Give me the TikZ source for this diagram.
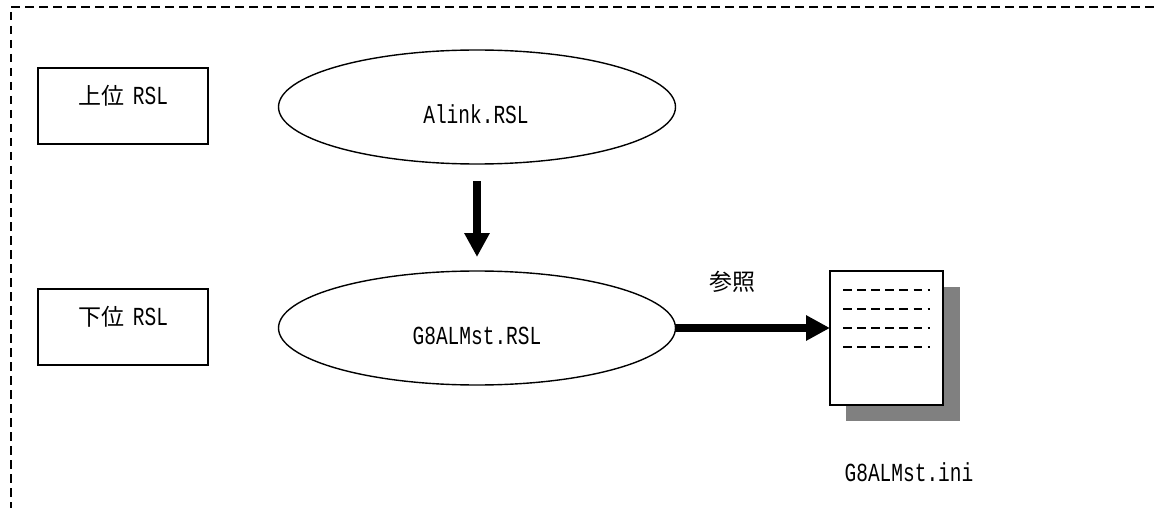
\documentclass[tikz,border=0pt]{standalone}
\usepackage{fontspec}
\setmainfont{Liberation Mono}
\newfontfamily\latf[FakeStretch=0.75]{Liberation Mono}
\newfontfamily\cjkf{Noto Sans CJK JP}
\usetikzlibrary{shapes.geometric,arrows.meta}
\tikzset{
  txt/.style={inner sep=0pt,outer sep=0pt,font=\fontsize{26pt}{26pt}\selectfont\latf,anchor=center},
  rbox/.style={draw=black,fill=white,line width=1.6pt,minimum width=170pt,minimum height=76pt,inner sep=0pt,outer sep=0pt},
  oval/.style={ellipse,draw=black,fill=white,line width=1.4pt,minimum width=397pt,minimum height=114pt,inner sep=0pt,outer sep=0pt},
  bigarrow/.style={line width=8pt,-{Triangle[length=24pt,width=24pt]}},
  docline/.style={line width=1.3pt,dash pattern=on 8.5pt off 5.6pt},
  frameline/.style={line width=1.5pt,dash pattern=on 8.5pt off 5.5pt},
}
\newcommand{\cj}[1]{{\fontsize{23pt}{23pt}\selectfont\cjkf #1}}
\begin{document}
\begin{tikzpicture}[x=1pt,y=-1pt]
\useasboundingbox (0,0) rectangle (1154,508);
\fill[white] (0,0) rectangle (1154,508);
\draw[frameline] (11,12) -- (11,508);
\draw[frameline] (11,7) -- (1154,7);
\node[rbox] (upper) at (123,106) {};
\node[rbox] (lower) at (123,327) {};
\node[txt] (uppert) at (123.5,95.5) {\cj{上位}\hspace{8pt}RSL};
\node[txt] (lowert) at (123.5,316.5) {\cj{下位}\hspace{8pt}RSL};
\node[oval] (alink) at (477,107) {};
\node[oval] (g8) at (477,328) {};
\node[txt] (alinkt) at (476,114) {Alink.RSL};
\node[txt] (g8t) at (477,336) {G8ALMst.RSL};
\fill[black!50] (846,287) rectangle (960,421);
\node[draw=black,fill=white,line width=1.6pt,minimum width=113pt,minimum height=134pt,inner sep=0pt,outer sep=0pt] (doc) at (886.5,338) {};
\foreach \yy in {290,309,328,347} \draw[docline] (843,\yy) -- (930,\yy);
\node[txt] (ref) at (732,282) {\cj{参照}};
\node[txt] (ini) at (909,472) {G8ALMst.ini};
\draw[bigarrow,shorten <=17pt,shorten >=14pt] (alink.south) -- (g8.north);
\draw[bigarrow] (g8.east) -- (g8.east -| doc.west);
\end{tikzpicture}
\end{document}
